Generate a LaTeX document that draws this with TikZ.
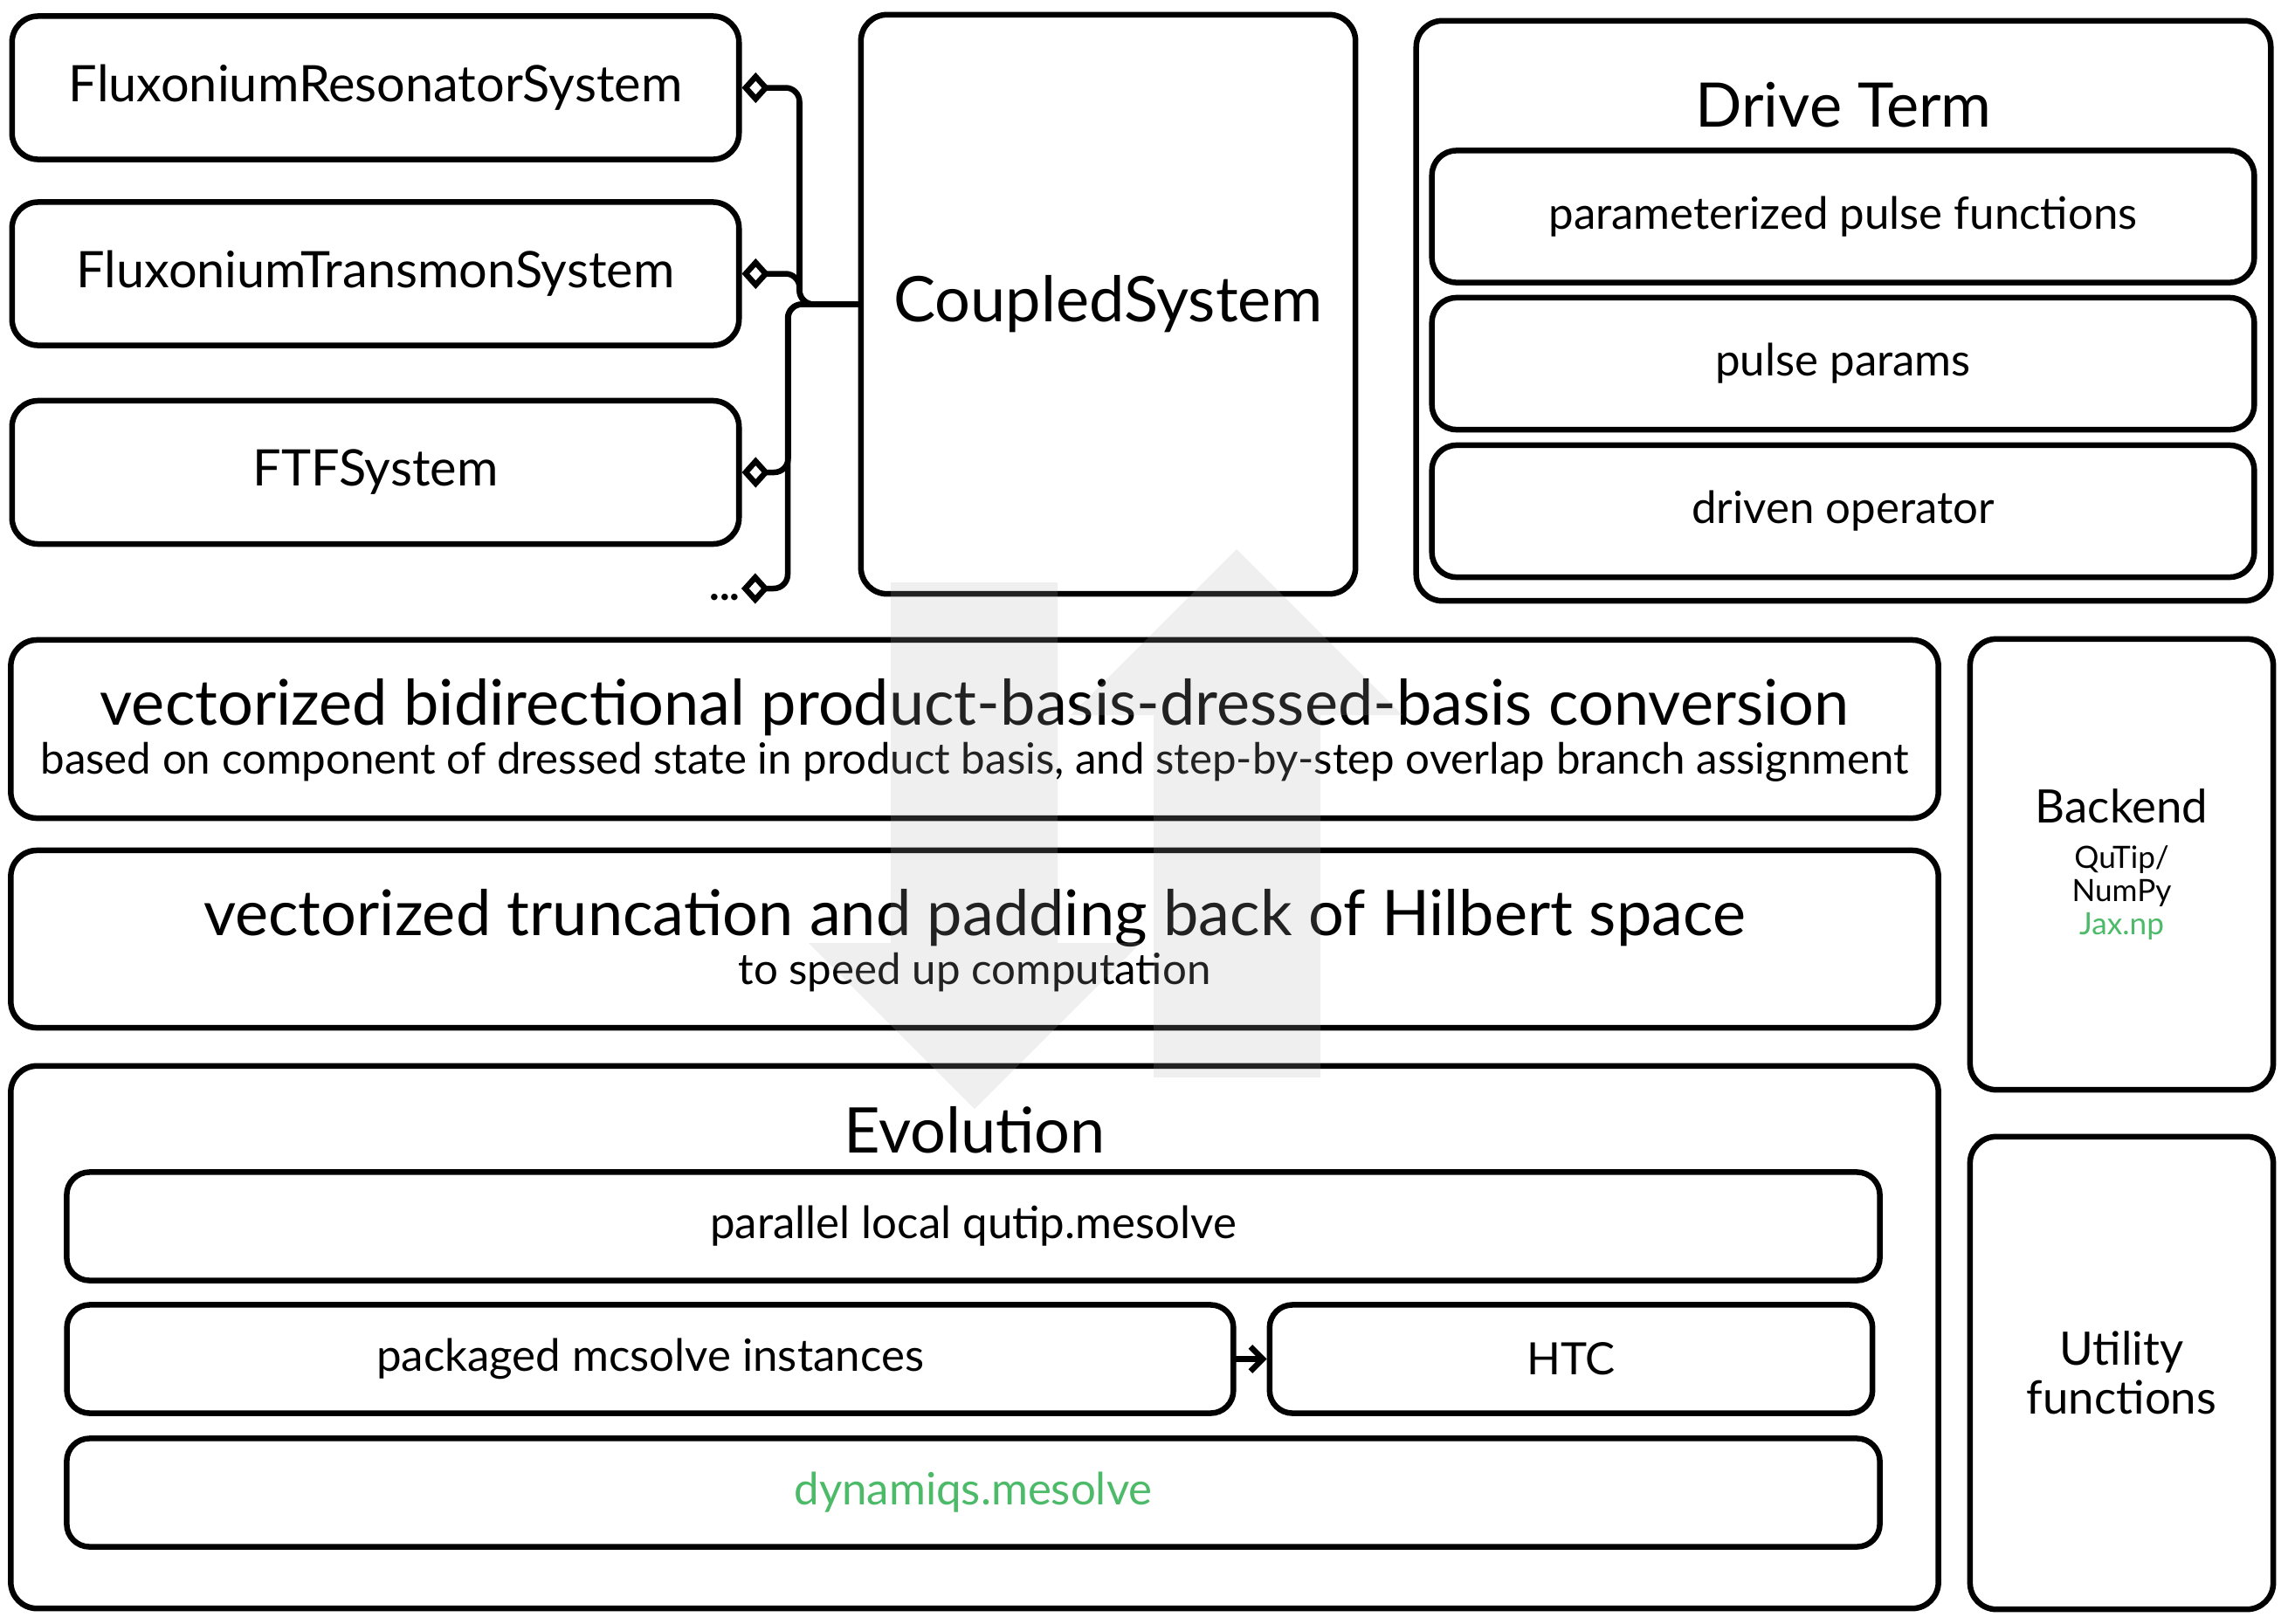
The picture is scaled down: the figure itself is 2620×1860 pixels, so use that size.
\documentclass[tikz,border=0pt]{standalone}
\usepackage{fontspec}
\setmainfont{Lato}
\usetikzlibrary{arrows.meta, calc}
\definecolor{jaxgreen}{RGB}{76,186,104}

\begin{document}
\begin{tikzpicture}[x=0.01cm, y=-0.01cm,
  box/.style={draw, line width=1.85pt, rounded corners=0.3cm, align=center, inner sep=0pt},
  sysbox/.style={box, minimum width=8.32cm, minimum height=1.64cm, font=\fontsize{16.4}{19}\selectfont},
  drvbox/.style={box, rounded corners=0.28cm, minimum width=9.41cm, minimum height=1.51cm, font=\fontsize{14.5}{17}\selectfont},
  evobox/.style={box, rounded corners=0.26cm, minimum height=1.24cm, font=\fontsize{14.5}{17}\selectfont},
  sidebox/.style={box, minimum width=3.47cm, font=\fontsize{15}{16}\selectfont},
  headtxt/.style={anchor=base, font=\fontsize{20.5}{24}\selectfont},
  subtxt/.style={anchor=base, font=\fontsize{14}{17}\selectfont},
  conn/.style={line width=1.85pt, rounded corners=0.16cm},
  bigarrow/.style={fill=black!32, fill opacity=0.2}
]
\useasboundingbox (0,0) rectangle (2620,1860);

% systems and the coupled system
\node[sysbox] (frs) at (430,100.5) {FluxoniumResonatorSystem};
\node[sysbox] (fts) at (430,313.5) {FluxoniumTransmonSystem};
\node[sysbox] (ftf) at (430,541) {FTFSystem};
\coordinate (more) at (849,674);
\node[font=\fontsize{14}{16}\selectfont\bfseries] (dots) at (830,684) {...};
\node[box, minimum width=5.66cm, minimum height=6.63cm, font=\fontsize{20.5}{24}\selectfont] (coupled) at (1269,348.5) {CoupledSystem};

\foreach \s/\d in {frs.east/66, fts.east/66, ftf.east/53, more/53}
  \draw[conn, {Diamond[open,length=9pt,width=10pt]}-] (\s) -- ++(\d,0) |- (coupled.west);

% drive term
\node[box, minimum width=9.78cm, minimum height=6.64cm] (drive) at (2111,356) {};
\node[headtxt, font=\fontsize{20}{24}\selectfont] (drivetitle) at (2111,145) {Drive Term};
\node[drvbox] (ppf) at (2110.5,248) {parameterized pulse functions};
\node[drvbox] (pparams) at (2110.5,416.5) {pulse params};
\node[drvbox] (dop) at (2110.5,585.5) {driven operator};

% basis conversion and truncation
\node[box, minimum width=22.06cm, minimum height=2.04cm] (conv) at (1116,835) {};
\node[headtxt] (convtitle) at (1116,830) {vectorized bidirectional product-basis-dressed-basis conversion};
\node[subtxt] (convsub) at (1116,886) {based on component of dressed state in product basis, and step-by-step overlap branch assignment};
\node[box, minimum width=22.06cm, minimum height=2.03cm] (trunc) at (1116,1075.5) {};
\node[headtxt] (trunctitle) at (1116,1071) {vectorized truncation and padding back of Hilbert space};
\node[subtxt] (truncsub) at (1116,1127) {to speed up computation};

% evolution
\node[box, minimum width=22.06cm, minimum height=6.21cm] (evo) at (1116,1531.5) {};
\node[headtxt] (evotitle) at (1116,1320) {Evolution};
\node[evobox, minimum width=20.75cm] (mesolve) at (1114.5,1404.5) {parallel local qutip.mesolve};
\node[evobox, minimum width=13.35cm] (mcsolve) at (744.5,1556.5) {packaged mcsolve instances};
\node[evobox, minimum width=6.9cm] (htc) at (1799,1556.5) {HTC};
\node[evobox, minimum width=20.75cm, text=jaxgreen] (dyn) at (1114.5,1709.5) {dynamiqs.mesolve};
\draw[line width=1.85pt, line cap=round, -{Straight Barb[length=4pt,width=8pt]}] (mcsolve) -- (htc);

% side boxes
\node[sidebox, minimum height=5.16cm, font=\fontsize{10}{10.8}\selectfont] (backend) at (2429.5,990) {{\fontsize{15}{16}\selectfont Backend}\\[4pt]QuTip/\\NumPy\\\textcolor{jaxgreen}{Jax.np}};
\node[sidebox, minimum height=5.41cm] (util) at (2429.5,1572.5) {Utility\\functions};

% big arrows
\draw[bigarrow, draw=none] (1020,667) -- (1211,667) -- (1211,1080) -- (1306,1080) -- (1116,1270) -- (926,1080) -- (1020,1080) -- cycle;
\draw[bigarrow, draw=none] (1321,1234) -- (1512,1234) -- (1512,819) -- (1606,819) -- (1416,629) -- (1226,819) -- (1321,819) -- cycle;
\end{tikzpicture}
\end{document}
